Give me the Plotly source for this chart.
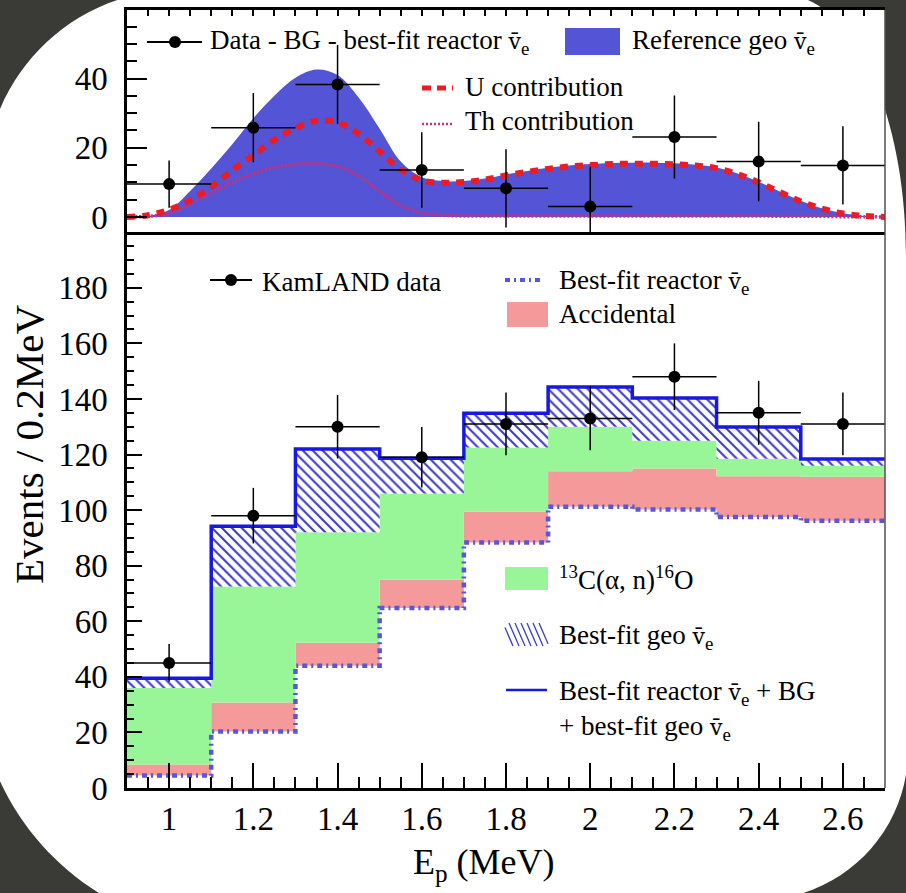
import plotly.graph_objects as go

# ---------------- data ----------------
# prompt-energy bins (MeV)
bin_centers = [1.0, 1.2, 1.4, 1.6, 1.8, 2.0, 2.2, 2.4, 2.6]
bin_edges = [0.9, 1.1, 1.3, 1.5, 1.7, 1.9, 2.1, 2.3, 2.5, 2.7]

# KamLAND candidates per 0.2 MeV
kamland_counts = [45, 98, 130, 119, 131, 133, 148, 135, 131]
kamland_err = [6.8, 10.0, 11.4, 10.9, 11.3, 11.5, 12.0, 11.5, 11.3]

# cumulative upper edges of the stacked expectation
reactor_top = [4.5, 20.3, 44, 64.8, 88.3, 101.2, 100.2, 97.5, 96.2]
accidental_top = [8.5, 30.8, 52.3, 74.9, 99.4, 114, 115, 112.2, 112]
c13_top = [36, 72.5, 92, 106, 122.5, 130, 125, 118.5, 116]
total_top = [39.5, 94.2, 122, 118.7, 134.9, 144.3, 140.3, 129.9, 118.4]

# data - BG - best-fit reactor
geo_excess = [9.5, 25.8, 38.3, 13.6, 8.3, 3.0, 23.1, 16.0, 14.9]
geo_excess_err = [6.8, 10.0, 11.4, 10.9, 11.3, 11.5, 12.0, 11.5, 11.3]

# reference geo-neutrino spectrum and its U / Th parts
curve_e = [0.90, 0.95, 1.00, 1.05, 1.10, 1.15, 1.20, 1.25, 1.30, 1.35, 1.40, 1.45,
           1.50, 1.55, 1.60, 1.65, 1.70, 1.75, 1.80, 1.85, 1.90, 1.95, 2.00, 2.05,
           2.10, 2.15, 2.20, 2.25, 2.30, 2.35, 2.40, 2.45, 2.50, 2.55, 2.60, 2.65, 2.70]
ref_geo = [0.0, 0.3, 2.0, 7.5, 14.0, 21.0, 28.5, 35.0, 40.2, 42.6, 41.0, 34.5,
           25.5, 16.0, 11.5, 10.4, 10.4, 11.1, 12.3, 13.3, 14.2, 14.9, 15.3, 15.6,
           15.7, 15.7, 15.5, 15.1, 14.3, 12.6, 10.2, 7.4, 4.7, 2.5, 1.1, 0.3, 0.0]
u_contrib = [0.0, 0.5, 2.1, 4.8, 8.7, 13.5, 17.8, 22.3, 25.6, 27.8, 27.3, 24.0,
             18.9, 13.7, 10.6, 9.9, 10.1, 10.8, 12.0, 13.0, 13.9, 14.6, 15.0, 15.3,
             15.4, 15.4, 15.2, 14.9, 14.1, 12.4, 10.0, 7.2, 4.5, 2.4, 1.0, 0.3, 0.0]
th_contrib = [0.0, 0.2, 1.0, 3.8, 6.9, 10.0, 12.5, 14.3, 15.2, 15.4, 14.6, 11.9,
              7.4, 3.3, 1.1, 0.5, 0.3, 0.3, 0.3, 0.3, 0.3, 0.3, 0.3, 0.3,
              0.3, 0.3, 0.3, 0.3, 0.3, 0.3, 0.3, 0.2, 0.2, 0.2, 0.1, 0.1, 0.0]

# ---------------- styling ----------------
SERIF = "Liberation Serif"
BG_DARK = "#3a3a36"
GEO_FILL = "#5454d6"
U_RED = "#ec1c24"
TH_MAG = "#cc2f78"
PINK = "#f59a9a"
GREEN = "#98f598"
HATCH = "#3c3cc4"
TOTAL_BLUE = "#1818e0"
REACTOR_BLUE = "#5858d4"
# anti-neutrino symbol: upright v with a combining macron, in a font that positions the mark
NUBAR = "<span style=\"font-family:DejaVu Serif;font-size:0.82em\">v\u0304</span>"

W, H = 906, 893
ML, MR, MT, MB = 127, 21, 10, 105
PW, PH = W - ML - MR, H - MT - MB
SPLIT = (788 - 235) / PH


def X(px):
    return (px - ML) / PW


def Y(py):
    return (H - MB - py) / PH


def step(vals):
    return vals + [vals[-1]]


half_w = [(bin_edges[i + 1] - bin_edges[i]) / 2 for i in range(len(bin_centers))]

fig = go.Figure()

# ---- top panel: geo-neutrino excess ----
fig.add_trace(go.Scatter(x=curve_e, y=ref_geo, mode="lines", line=dict(width=0, shape="spline"),
                         fill="tozeroy", fillcolor=GEO_FILL, xaxis="x2", yaxis="y2", hoverinfo="skip"))
fig.add_trace(go.Scatter(x=curve_e, y=th_contrib, mode="lines",
                         line=dict(color=TH_MAG, width=3.5, dash="2px,2px", shape="spline"),
                         xaxis="x2", yaxis="y2"))
fig.add_trace(go.Scatter(x=curve_e, y=u_contrib, mode="lines",
                         line=dict(color=U_RED, width=6, dash="8px,7px", shape="spline"),
                         xaxis="x2", yaxis="y2"))
fig.add_trace(go.Scatter(x=bin_centers, y=geo_excess, mode="markers",
                         marker=dict(color="black", size=12),
                         error_y=dict(type="data", array=geo_excess_err, color="black", thickness=1.5, width=0),
                         error_x=dict(type="data", array=half_w, color="black", thickness=1.5, width=0),
                         xaxis="x2", yaxis="y2"))

# ---- bottom panel: stacked expectation ----
fig.add_trace(go.Scatter(x=bin_edges, y=step(reactor_top), mode="lines",
                         line=dict(width=0, shape="hv"), hoverinfo="skip"))
fig.add_trace(go.Scatter(x=bin_edges, y=step(accidental_top), mode="lines",
                         line=dict(width=0, shape="hv"), fill="tonexty", fillcolor=PINK))
fig.add_trace(go.Scatter(x=bin_edges, y=step(c13_top), mode="lines",
                         line=dict(width=0, shape="hv"), fill="tonexty", fillcolor=GREEN))
fig.add_trace(go.Scatter(x=bin_edges, y=step(total_top), mode="lines",
                         line=dict(width=3.5, shape="hv", color=TOTAL_BLUE), fill="tonexty",
                         fillcolor="white",
                         fillpattern=dict(shape="\\", fgcolor=HATCH, bgcolor="white",
                                          size=7, solidity=0.3, fillmode="replace")))
fig.add_trace(go.Scatter(x=bin_edges, y=step(reactor_top), mode="lines",
                         line=dict(width=4.5, shape="hv", color=REACTOR_BLUE, dash="5px,4px,2px,4px")))
fig.add_trace(go.Scatter(x=bin_centers, y=kamland_counts, mode="markers",
                         marker=dict(color="black", size=12),
                         error_y=dict(type="data", array=kamland_err, color="black", thickness=1.5, width=0),
                         error_x=dict(type="data", array=half_w, color="black", thickness=1.5, width=0)))

# ---- frame: white rounded panel on dark page ----
K = 0.5523


def P(px, py):
    return f"{X(px):.5f},{Y(py):.5f}"


tl_L, tl_T, tl_r = -15, -10, 194
tr_R, tr_T, tr_a, tr_b = 906, -5, 122, 260
br_R, br_B, br_r = 908, 900, 150
bl_L, bl_B, bl_r = -24, 932, 260
panel = (
    f"M{P(tl_L, tl_T + tl_r)} "
    f"C{P(tl_L, tl_T + tl_r - K * tl_r)} {P(tl_L + tl_r - K * tl_r, tl_T)} {P(tl_L + tl_r, tl_T)} "
    f"L{P(tr_R - tr_a, tr_T)} "
    f"C{P(tr_R - tr_a + K * tr_a, tr_T)} {P(tr_R, tr_T + tr_b - K * tr_b)} {P(tr_R, tr_T + tr_b)} "
    f"L{P(br_R, br_B - br_r)} "
    f"C{P(br_R, br_B - br_r + K * br_r)} {P(br_R - br_r + K * br_r, br_B)} {P(br_R - br_r, br_B)} "
    f"L{P(bl_L + bl_r, bl_B)} "
    f"C{P(bl_L + bl_r - K * bl_r, bl_B)} {P(bl_L, bl_B - bl_r + K * bl_r)} {P(bl_L, bl_B - bl_r)} Z"
)

shapes = [dict(type="path", path=panel, xref="paper", yref="paper", fillcolor="white",
               line=dict(width=0), layer="below"),
          dict(type="line", xref="paper", yref="paper", x0=1, x1=1, y0=0, y1=1,
               line=dict(color="#505050", width=1.5))]


def seg(x0, y0, x1, y1, color, width, dash="solid"):
    shapes.append(dict(type="line", xref="paper", yref="paper", x0=X(x0), y0=Y(y0), x1=X(x1), y1=Y(y1),
                       line=dict(color=color, width=width, dash=dash)))


def box(x0, y0, x1, y1, color):
    shapes.append(dict(type="rect", xref="paper", yref="paper", x0=X(x0), y0=Y(y1), x1=X(x1), y1=Y(y0),
                       fillcolor=color, line=dict(width=0)))


def dot(cx, cy, r):
    shapes.append(dict(type="circle", xref="paper", yref="paper", x0=X(cx - r), x1=X(cx + r),
                       y0=Y(cy + r), y1=Y(cy - r), fillcolor="black", line=dict(width=0)))


# legend glyphs, top panel
seg(147, 42, 202, 42, "black", 2)
dot(175, 42, 6)
box(565, 28, 620, 55, GEO_FILL)
seg(422, 88, 453, 88, U_RED, 5, "9px,6px")
seg(422, 124, 453, 124, TH_MAG, 2.5, "2px,2px")
# legend glyphs, bottom panel
seg(210, 280, 252, 280, "black", 2)
dot(231, 280, 6)
seg(505, 280, 542, 280, REACTOR_BLUE, 4, "5px,4px,2px,4px")
box(507, 302, 548, 327, PINK)
box(505, 567, 548, 590, GREEN)
for i in range(7):
    x0 = 503 + 6 * i
    seg(max(x0, 505), 623 + (max(x0, 505) - x0) * 2.3, min(x0 + 10, 548), 623 + (min(x0 + 10, 548) - x0) * 2.3,
        HATCH, 1.3)
seg(506, 690, 547, 690, TOTAL_BLUE, 2.5)


def label(text, px, py, size=27, **kw):
    d = dict(text=text, x=X(px), y=Y(py), xref="paper", yref="paper", showarrow=False,
             xanchor="left", yanchor="middle", align="left", font=dict(family=SERIF, size=size, color="black"))
    d.update(kw)
    return d


annotations = [
    label(f"Data - BG - best-fit reactor {NUBAR}<sub>e</sub>", 208, 42),
    label(f"Reference geo {NUBAR}<sub>e</sub>", 630, 42),
    label("U contribution", 463, 87),
    label("Th contribution", 463, 121),
    label("KamLAND data", 260, 282),
    label(f"Best-fit reactor {NUBAR}<sub>e</sub>", 557, 282),
    label("Accidental", 557, 314),
    label("<sup>13</sup>C(\u03b1, n)<sup>16</sup>O", 557, 578),
    label(f"Best-fit geo {NUBAR}<sub>e</sub>", 557, 637),
    label(f"Best-fit reactor {NUBAR}<sub>e</sub> + BG<br>+ best-fit geo {NUBAR}<sub>e</sub>", 557, 710),
    label("Events / 0.2MeV", 29, 445, size=41, xanchor="center", textangle=-90),
    label("E<sub>p</sub> (MeV)", 484, 864, size=36, xanchor="center"),
]

tickfont = dict(family=SERIF, size=33, color="black")
fig.update_layout(
    width=W, height=H,
    margin=dict(l=ML, r=MR, t=MT, b=MB, pad=0),
    paper_bgcolor=BG_DARK, plot_bgcolor="white",
    showlegend=False,
    shapes=shapes, annotations=annotations,
    xaxis=dict(domain=[0, 1], anchor="y", range=[0.9, 2.7], tick0=1, dtick=0.2,
               ticks="inside", ticklen=25, tickwidth=1.5, tickcolor="black",
               minor=dict(ticks="inside", ticklen=11, dtick=0.05, tick0=1, tickcolor="black", tickwidth=1.5),
               showline=True, linecolor="black", linewidth=2.5, mirror=True,
               showgrid=False, zeroline=False, tickfont=tickfont, ticklabelstandoff=0),
    yaxis=dict(domain=[0, SPLIT], anchor="x", range=[0, 199], dtick=20,
               ticks="inside", ticklen=15, tickwidth=1.5, tickcolor="black",
               minor=dict(ticks="inside", ticklen=7, dtick=5, tickcolor="black", tickwidth=1.5),
               showline=True, linecolor="black", linewidth=2.5,
               showgrid=False, zeroline=False, tickfont=tickfont, ticklabelstandoff=10),
    xaxis2=dict(domain=[0, 1], anchor="y2", side="top", matches="x", range=[0.9, 2.7],
                tick0=1, dtick=0.05, ticks="inside", ticklen=6, tickwidth=1.5, tickcolor="black",
                showticklabels=False, showline=True, linecolor="black", linewidth=2.5,
                showgrid=False, zeroline=False),
    yaxis2=dict(domain=[SPLIT, 1], anchor="x2", range=[-5.2, 59.8], dtick=20, tick0=0,
                ticks="inside", ticklen=20, tickwidth=1.5, tickcolor="black",
                minor=dict(ticks="inside", ticklen=10, dtick=5, tickcolor="black", tickwidth=1.5),
                showline=True, linecolor="black", linewidth=2.5,
                showgrid=False, zeroline=False, tickfont=tickfont, ticklabelstandoff=10),
)

fig.write_html("out.html")
